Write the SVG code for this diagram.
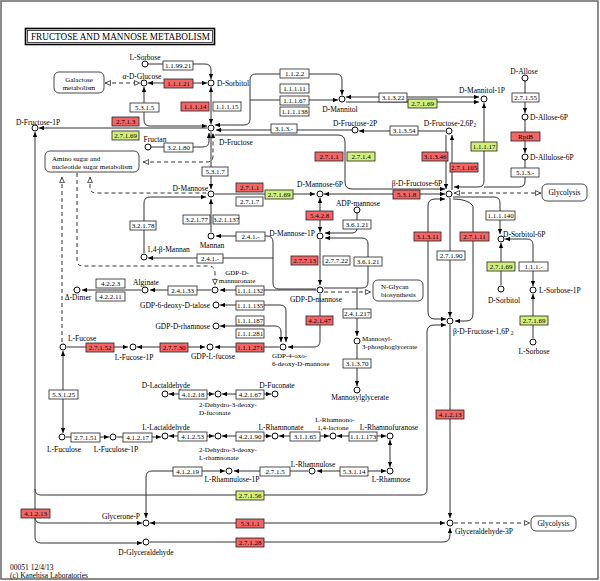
<svg xmlns="http://www.w3.org/2000/svg" width="600" height="581" viewBox="0 0 600 581">
<defs>
<style>
.bx{stroke:#222;stroke-width:0.8;fill:#fff}
.r{fill:#f46666}
.g{fill:#d2ee7c}
.et{font-family:"Liberation Serif",serif;font-size:7px;fill:#000;text-anchor:middle}
.t{font-family:"Liberation Serif",serif;font-size:7.5px;fill:#000}
.s{font-size:7px}
.m{text-anchor:middle}
.e{text-anchor:end}
.c{fill:#fff;stroke:#000;stroke-width:1}
.mp{fill:#fff;stroke:#333;stroke-width:0.9}
#connectors path{fill:none;stroke:#333;stroke-width:1}
#connectors path.d{stroke-dasharray:4,3}
</style>
<marker id="a" viewBox="0 0 8 8" refX="8" refY="4" markerWidth="5" markerHeight="5" markerUnits="userSpaceOnUse" orient="auto-start-reverse"><path d="M0,0.5 L8,4 L0,7.5z" fill="#000"/></marker>
<marker id="o" viewBox="0 0 8 8" refX="8" refY="4" markerWidth="6" markerHeight="6" markerUnits="userSpaceOnUse" orient="auto-start-reverse"><path d="M0.5,0.8 L7.5,4 L0.5,7.2z" fill="#fff" stroke="#000" stroke-width="0.9"/></marker>
</defs>
<rect x="0" y="0" width="600" height="581" fill="#fff"/>
<rect x="1" y="1" width="597" height="578" fill="none" stroke="#666" stroke-width="1.5"/>

<g id="title">
<rect x="25.5" y="28.5" width="189" height="16" fill="#fff" stroke="#000" stroke-width="1.6"/>
<rect x="27.5" y="30.5" width="185" height="12" fill="none" stroke="#000" stroke-width="0.7"/>
<text x="31" y="40" font-family="Liberation Serif,serif" font-size="9.5" textLength="179" lengthAdjust="spacingAndGlyphs">FRUCTOSE AND MANNOSE METABOLISM</text>
</g>

<g id="connectors">
<path d="M148 64 H205 Q211 64 211 70 V79" marker-end="url(#a)"/>
<path d="M148 83 H207" marker-start="url(#a)" marker-end="url(#a)"/>
<path class="d" d="M105 83 H140" marker-start="url(#o)" marker-end="url(#o)"/>
<path d="M144 87 V120 Q144 126 150 126 H207" marker-start="url(#a)" marker-end="url(#a)"/>
<path d="M211 87 V124" marker-start="url(#a)" marker-end="url(#a)"/>
<path d="M207 128 H39" marker-end="url(#a)"/>
<path d="M35 132 V537 Q35 543 41 543 H142" marker-start="url(#a)" marker-end="url(#a)"/>
<path d="M35 517 Q35 523 41 523 H142" marker-end="url(#a)"/>
<path d="M35 489 Q35 495 41 495 H421 Q427 495 427 489 V332 Q427 325 434 325 H446" marker-end="url(#a)"/>
<path d="M151 147 H203 Q209 147 209 141 V133" marker-end="url(#a)"/>
<path class="d" d="M143 162 H207 Q213 162 213 156 V133" marker-start="url(#o)" marker-end="url(#a)"/>
<path d="M215 125 H244 Q250 125 250 119 V80 Q250 74 256 74 H336 Q342 74 342 80 V95" marker-start="url(#a)" marker-end="url(#a)"/>
<path d="M250 100 H338" marker-end="url(#a)"/>
<path d="M352 130 H216" marker-end="url(#a)"/>
<path d="M215 135 H338 Q345 135 345 142 V182 Q345 189 352 189 H445" marker-end="url(#a)"/>
<path d="M445 131 H359" marker-end="url(#a)"/>
<path d="M446 135 V189" marker-end="url(#a)"/>
<path d="M452 190 V135" marker-end="url(#a)"/>
<path d="M346 97 H479" marker-start="url(#a)" marker-end="url(#a)"/>
<path d="M346 102 H479" marker-end="url(#a)"/>
<path d="M484 103 V181 Q484 187 478 187 H454" marker-start="url(#a)" marker-end="url(#a)"/>
<path d="M525 81 V113" marker-end="url(#a)"/>
<path d="M525 120 V153" marker-end="url(#a)"/>
<path d="M525 160 V181 Q525 187 519 187 H484"/>
<path class="d" d="M454 193 H541" marker-start="url(#o)" marker-end="url(#o)"/>
<path d="M453 197 H494 Q500 197 500 203 V234" marker-end="url(#a)"/>
<path d="M324 194 H445" marker-start="url(#a)" marker-end="url(#a)"/>
<path d="M215 194 H315" marker-end="url(#a)"/>
<path d="M211 132 V189" marker-end="url(#a)"/>
<path d="M211 232 V199" marker-end="url(#a)"/>
<path d="M144 253 V203 Q144 197 150 197 H206" marker-end="url(#a)"/>
<path d="M216 236 H267 Q273 236 273 242 V283 Q273 289 279 289 H316" marker-start="url(#a)"/>
<path d="M148 258 H273" marker-start="url(#a)"/>
<path d="M316 290 H220" marker-end="url(#a)"/>
<path d="M211 290 H150" marker-end="url(#a)"/>
<path d="M141 290 H82" marker-end="url(#a)"/>
<path d="M320 240 V285" marker-end="url(#a)"/>
<path d="M320 198 V232" marker-start="url(#a)" marker-end="url(#a)"/>
<path d="M357 213 V228 Q357 233 352 233 H325" marker-end="url(#a)"/>
<path d="M324 288 H362 Q368 288 368 282 V244 Q368 238 362 238 H325" marker-end="url(#a)"/>
<path class="d" d="M324 292 H371" marker-end="url(#o)"/>
<path d="M357 288 V336" marker-end="url(#a)"/>
<path d="M357 345 V386" marker-end="url(#a)"/>
<path d="M320 294 V341 Q320 347 314 347 H288" marker-end="url(#a)"/>
<path d="M279 347 H215" marker-end="url(#a)"/>
<path d="M137 347 H205" marker-start="url(#a)" marker-end="url(#a)"/>
<path d="M67 347 H128" marker-end="url(#a)"/>
<path d="M220 305 H280 Q286 305 286 311 V342" marker-start="url(#a)" marker-end="url(#a)"/>
<path d="M220 326 H275 Q281 326 281 332 V342" marker-start="url(#a)" marker-end="url(#a)"/>
<path d="M501 285 V243" marker-end="url(#a)"/>
<path d="M505 239 H527 Q533 239 533 245 V286" marker-start="url(#a)" marker-end="url(#a)"/>
<path d="M533 338 V294" marker-end="url(#a)"/>
<path d="M450 198 V317" marker-end="url(#a)"/>
<path d="M453 199 Q468 199 473 206 V314 Q473 321 466 321 H455" marker-end="url(#a)"/>
<path d="M446 319 H435 Q428 319 428 312 V206 Q428 199 435 199 H445" marker-start="url(#a)" marker-end="url(#a)"/>
<path d="M450 325 V518" marker-end="url(#a)"/>
<path d="M150 523 H445" marker-start="url(#a)" marker-end="url(#a)"/>
<path d="M150 542 H443 Q450 542 450 535 V528" marker-end="url(#a)"/>
<path class="d" d="M454 523 H530" marker-end="url(#o)"/>
<path d="M225 471 H152 Q146 471 146 477 V518" marker-start="url(#a)" marker-end="url(#a)"/>
<path d="M308 471 H234" marker-end="url(#a)"/>
<path d="M386 471 H317" marker-start="url(#a)" marker-end="url(#a)"/>
<path d="M390 440 V467" marker-start="url(#a)" marker-end="url(#a)"/>
<path d="M386 436 H337" marker-start="url(#a)" marker-end="url(#a)"/>
<path d="M279 436 H329" marker-start="url(#a)" marker-end="url(#a)"/>
<path d="M271 436 H222" marker-start="url(#a)" marker-end="url(#a)"/>
<path d="M214 436 H169" marker-start="url(#a)" marker-end="url(#a)"/>
<path d="M117 437 H161" marker-end="url(#a)"/>
<path d="M66 437 H109" marker-end="url(#a)"/>
<path d="M63 351 V433" marker-start="url(#a)" marker-end="url(#a)"/>
<path d="M169 394 H214" marker-start="url(#a)" marker-end="url(#a)"/>
<path d="M222 394 H271" marker-start="url(#a)" marker-end="url(#a)"/>
<path class="d" d="M62 177 V343" marker-start="url(#o)"/>
<path class="d" d="M77 173 V260 Q77 266 83 266 H208 Q215 266 215 273 V285" marker-end="url(#o)"/>
<path class="d" d="M90 177 V187 Q90 193 96 193 H206" marker-start="url(#o)"/>
</g>

<g id="maps">
<g id="map-galactose"><rect class="mp" x="54" y="72" width="50" height="21" rx="5"/><text class="t m s" x="79" y="82">Galactose</text><text class="t m s" x="79" y="90">metabolism</text></g>
<g id="map-aminosugar"><rect class="mp" x="45" y="151" width="94" height="21" rx="5"/><text class="t s" x="52" y="160.5">Amino sugar and</text><text class="t s" x="52" y="168.5">nucleotide sugar metabolism</text></g>
<g id="map-nglycan"><rect class="mp" x="373" y="280" width="50" height="21" rx="5"/><text class="t s" x="381" y="289">N-Glycan</text><text class="t s" x="381" y="297">biosynthesis</text></g>
<g id="map-glycolysis1"><rect class="mp" x="542" y="184" width="45" height="17" rx="5"/><text class="t m" x="564.5" y="195">Glycolysis</text></g>
<g id="map-glycolysis2"><rect class="mp" x="531" y="516" width="45" height="15" rx="5"/><text class="t m" x="553.5" y="526">Glycolysis</text></g>
</g>

<g id="enzymes">
<g id="e-1.1.99.21"><rect class="bx" x="163" y="61" width="30" height="9"/><text class="et" x="178" y="68">1.1.99.21</text></g>
<g id="e-1.1.1.21"><rect class="bx r" x="164" y="79" width="29" height="9"/><text class="et" x="178.5" y="86">1.1.1.21</text></g>
<g id="e-5.3.1.5"><rect class="bx" x="130" y="103" width="29" height="9"/><text class="et" x="144.5" y="110">5.3.1.5</text></g>
<g id="e-1.1.1.14"><rect class="bx r" x="181" y="102" width="28" height="9"/><text class="et" x="195" y="109">1.1.1.14</text></g>
<g id="e-1.1.1.15"><rect class="bx" x="213" y="102" width="28" height="9"/><text class="et" x="227" y="109">1.1.1.15</text></g>
<g id="e-1.1.2.2"><rect class="bx" x="280" y="69" width="29" height="9"/><text class="et" x="294.5" y="76">1.1.2.2</text></g>
<g id="e-1.1.1.11"><rect class="bx" x="280" y="84" width="29" height="9"/><text class="et" x="294.5" y="91">1.1.1.11</text></g>
<g id="e-1.1.1.67"><rect class="bx" x="280" y="96" width="29" height="9"/><text class="et" x="294.5" y="103">1.1.1.67</text></g>
<g id="e-1.1.1.138"><rect class="bx" x="280" y="107" width="29" height="9"/><text class="et" x="294.5" y="114">1.1.1.138</text></g>
<g id="e-2.7.1.3"><rect class="bx r" x="112" y="117" width="27" height="9"/><text class="et" x="125.5" y="124">2.7.1.3</text></g>
<g id="e-2.7.1.69a"><rect class="bx g" x="112" y="131" width="27" height="9"/><text class="et" x="125.5" y="138">2.7.1.69</text></g>
<g id="e-3.2.1.80"><rect class="bx" x="164" y="143" width="29" height="9"/><text class="et" x="178.5" y="150">3.2.1.80</text></g>
<g id="e-3.1.3.-"><rect class="bx" x="271" y="124" width="26" height="9"/><text class="et" x="284" y="131">3.1.3.-</text></g>
<g id="e-3.1.3.22"><rect class="bx" x="379" y="93" width="28" height="9"/><text class="et" x="393" y="100">3.1.3.22</text></g>
<g id="e-2.7.1.69b"><rect class="bx g" x="408" y="99" width="29" height="9"/><text class="et" x="422.5" y="106">2.7.1.69</text></g>
<g id="e-3.1.3.54"><rect class="bx" x="390" y="126" width="28" height="9"/><text class="et" x="404" y="133">3.1.3.54</text></g>
<g id="e-2.7.1.1a"><rect class="bx r" x="315" y="152" width="28" height="9"/><text class="et" x="329" y="159">2.7.1.1</text></g>
<g id="e-2.7.1.4"><rect class="bx g" x="347" y="152" width="28" height="9"/><text class="et" x="361" y="159">2.7.1.4</text></g>
<g id="e-3.1.3.46"><rect class="bx r" x="422" y="152" width="26" height="9"/><text class="et" x="435" y="159">3.1.3.46</text></g>
<g id="e-2.7.1.105"><rect class="bx r" x="450" y="163" width="28" height="9"/><text class="et" x="464" y="170">2.7.1.105</text></g>
<g id="e-1.1.1.17"><rect class="bx g" x="471" y="142" width="26" height="9"/><text class="et" x="484" y="149">1.1.1.17</text></g>
<g id="e-2.7.1.55"><rect class="bx" x="512" y="93" width="27" height="9"/><text class="et" x="525.5" y="100">2.7.1.55</text></g>
<g id="e-RpiB"><rect class="bx r" x="511" y="132" width="29" height="9"/><text class="et" x="525.5" y="139">RpiB</text></g>
<g id="e-5.1.3.-"><rect class="bx" x="511" y="168" width="28" height="9"/><text class="et" x="525" y="175">5.1.3.-</text></g>
<g id="e-5.3.1.7"><rect class="bx" x="202" y="167" width="26" height="9"/><text class="et" x="215" y="174">5.3.1.7</text></g>
<g id="e-2.7.1.1b"><rect class="bx r" x="236" y="183" width="27" height="9"/><text class="et" x="249.5" y="190">2.7.1.1</text></g>
<g id="e-2.7.1.7"><rect class="bx" x="236" y="197" width="27" height="9"/><text class="et" x="249.5" y="204">2.7.1.7</text></g>
<g id="e-2.7.1.69c"><rect class="bx g" x="265" y="190" width="28" height="9"/><text class="et" x="279" y="197">2.7.1.69</text></g>
<g id="e-5.3.1.8"><rect class="bx r" x="393" y="190" width="27" height="9"/><text class="et" x="406.5" y="197">5.3.1.8</text></g>
<g id="e-3.2.1.77"><rect class="bx" x="183" y="215" width="27" height="9"/><text class="et" x="196.5" y="222">3.2.1.77</text></g>
<g id="e-3.2.1.137"><rect class="bx" x="213" y="215" width="26" height="9"/><text class="et" x="226" y="222">3.2.1.137</text></g>
<g id="e-3.2.1.78"><rect class="bx" x="130" y="221" width="26" height="9"/><text class="et" x="143" y="228">3.2.1.78</text></g>
<g id="e-2.4.1.-a"><rect class="bx" x="236" y="232" width="29" height="9"/><text class="et" x="250.5" y="239">2.4.1.-</text></g>
<g id="e-2.4.1.-b"><rect class="bx" x="197" y="254" width="26" height="9"/><text class="et" x="210" y="261">2.4.1.-</text></g>
<g id="e-5.4.2.8"><rect class="bx r" x="306" y="211" width="27" height="9"/><text class="et" x="319.5" y="218">5.4.2.8</text></g>
<g id="e-3.6.1.21a"><rect class="bx" x="343" y="220" width="28" height="9"/><text class="et" x="357" y="227">3.6.1.21</text></g>
<g id="e-2.7.7.13"><rect class="bx r" x="291" y="256" width="27" height="9"/><text class="et" x="304.5" y="263">2.7.7.13</text></g>
<g id="e-2.7.7.22"><rect class="bx" x="323" y="256" width="27" height="9"/><text class="et" x="336.5" y="263">2.7.7.22</text></g>
<g id="e-3.6.1.21b"><rect class="bx" x="354" y="257" width="28" height="9"/><text class="et" x="368" y="264">3.6.1.21</text></g>
<g id="e-3.1.3.11"><rect class="bx r" x="414" y="232" width="27" height="9"/><text class="et" x="427.5" y="239">3.1.3.11</text></g>
<g id="e-2.7.1.11"><rect class="bx r" x="460" y="232" width="29" height="9"/><text class="et" x="474.5" y="239">2.7.1.11</text></g>
<g id="e-1.1.1.140"><rect class="bx" x="486" y="211" width="29" height="9"/><text class="et" x="500.5" y="218">1.1.1.140</text></g>
<g id="e-2.7.1.90"><rect class="bx" x="437" y="251" width="28" height="9"/><text class="et" x="451" y="258">2.7.1.90</text></g>
<g id="e-2.7.1.69d"><rect class="bx g" x="487" y="262" width="28" height="9"/><text class="et" x="501" y="269">2.7.1.69</text></g>
<g id="e-1.1.1.-"><rect class="bx" x="519" y="262" width="29" height="9"/><text class="et" x="533.5" y="269">1.1.1.-</text></g>
<g id="e-2.7.1.69e"><rect class="bx g" x="520" y="316" width="28" height="9"/><text class="et" x="534" y="323">2.7.1.69</text></g>
<g id="e-4.2.2.3"><rect class="bx" x="96" y="279" width="29" height="9"/><text class="et" x="110.5" y="286">4.2.2.3</text></g>
<g id="e-4.2.2.11"><rect class="bx" x="96" y="292" width="29" height="9"/><text class="et" x="110.5" y="299">4.2.2.11</text></g>
<g id="e-2.4.1.33"><rect class="bx" x="168" y="286" width="29" height="9"/><text class="et" x="182.5" y="293">2.4.1.33</text></g>
<g id="e-1.1.1.132"><rect class="bx" x="236" y="286" width="28" height="9"/><text class="et" x="250" y="293">1.1.1.132</text></g>
<g id="e-1.1.1.135"><rect class="bx" x="236" y="301" width="28" height="9"/><text class="et" x="250" y="308">1.1.1.135</text></g>
<g id="e-1.1.1.187"><rect class="bx" x="236" y="316" width="28" height="9"/><text class="et" x="250" y="323">1.1.1.187</text></g>
<g id="e-1.1.1.281"><rect class="bx" x="236" y="329" width="28" height="9"/><text class="et" x="250" y="336">1.1.1.281</text></g>
<g id="e-2.7.7.30"><rect class="bx r" x="160" y="343" width="28" height="9"/><text class="et" x="174" y="350">2.7.7.30</text></g>
<g id="e-1.1.1.271"><rect class="bx r" x="236" y="343" width="28" height="9"/><text class="et" x="250" y="350">1.1.1.271</text></g>
<g id="e-4.2.1.47"><rect class="bx r" x="306" y="316" width="27" height="9"/><text class="et" x="319.5" y="323">4.2.1.47</text></g>
<g id="e-2.4.1.217"><rect class="bx" x="343" y="309" width="28" height="9"/><text class="et" x="357" y="316">2.4.1.217</text></g>
<g id="e-3.1.3.70"><rect class="bx" x="343" y="359" width="28" height="9"/><text class="et" x="357" y="366">3.1.3.70</text></g>
<g id="e-2.7.1.52"><rect class="bx r" x="86" y="343" width="28" height="9"/><text class="et" x="100" y="350">2.7.1.52</text></g>
<g id="e-5.3.1.25"><rect class="bx" x="49" y="390" width="29" height="9"/><text class="et" x="63.5" y="397">5.3.1.25</text></g>
<g id="e-2.7.1.51"><rect class="bx" x="71" y="433" width="29" height="9"/><text class="et" x="85.5" y="440">2.7.1.51</text></g>
<g id="e-4.1.2.17"><rect class="bx" x="123" y="433" width="29" height="9"/><text class="et" x="137.5" y="440">4.1.2.17</text></g>
<g id="e-4.1.2.18"><rect class="bx" x="179" y="390" width="28" height="9"/><text class="et" x="193" y="397">4.1.2.18</text></g>
<g id="e-4.2.1.67"><rect class="bx" x="236" y="390" width="28" height="9"/><text class="et" x="250" y="397">4.2.1.67</text></g>
<g id="e-4.1.2.53"><rect class="bx" x="178" y="432" width="29" height="9"/><text class="et" x="192.5" y="439">4.1.2.53</text></g>
<g id="e-4.2.1.90"><rect class="bx" x="236" y="432" width="28" height="9"/><text class="et" x="250" y="439">4.2.1.90</text></g>
<g id="e-3.1.1.65"><rect class="bx" x="290" y="432" width="30" height="9"/><text class="et" x="305" y="439">3.1.1.65</text></g>
<g id="e-1.1.1.173"><rect class="bx" x="349" y="432" width="28" height="9"/><text class="et" x="363" y="439">1.1.1.173</text></g>
<g id="e-4.1.2.19"><rect class="bx" x="173" y="467" width="29" height="9"/><text class="et" x="187.5" y="474">4.1.2.19</text></g>
<g id="e-2.7.1.5"><rect class="bx" x="260" y="467" width="30" height="9"/><text class="et" x="275" y="474">2.7.1.5</text></g>
<g id="e-5.3.1.14"><rect class="bx" x="340" y="467" width="28" height="9"/><text class="et" x="354" y="474">5.3.1.14</text></g>
<g id="e-2.7.1.56"><rect class="bx g" x="236" y="491" width="28" height="9"/><text class="et" x="250" y="498">2.7.1.56</text></g>
<g id="e-5.3.1.1"><rect class="bx r" x="236" y="519" width="28" height="9"/><text class="et" x="250" y="526">5.3.1.1</text></g>
<g id="e-2.7.1.28"><rect class="bx r" x="236" y="538" width="28" height="9"/><text class="et" x="250" y="545">2.7.1.28</text></g>
<g id="e-4.1.2.13a"><rect class="bx r" x="21" y="509" width="29" height="9"/><text class="et" x="35.5" y="516">4.1.2.13</text></g>
<g id="e-4.1.2.13b"><rect class="bx r" x="436" y="410" width="28" height="9"/><text class="et" x="450" y="417">4.1.2.13</text></g>
</g>

<g id="compounds">
<g id="c-L-Sorbose-a"><circle class="c" cx="145" cy="64" r="3"/><text class="t m" x="145" y="59.5">L-Sorbose</text></g>
<g id="c-a-D-Glucose"><circle class="c" cx="144" cy="83" r="3"/><text class="t m" x="142" y="78.5">α-D-Glucose</text></g>
<g id="c-D-Sorbitol-a"><circle class="c" cx="211" cy="83" r="3"/><text class="t" x="217" y="86">D-Sorbitol</text></g>
<g id="c-D-Fructose"><circle class="c" cx="211" cy="128" r="3"/><text class="t" x="219" y="145">D-Fructose</text></g>
<g id="c-D-Fructose-1P"><circle class="c" cx="35" cy="128" r="3"/><text class="t m" x="38" y="124.5">D-Fructose-1P</text></g>
<g id="c-Fructan"><circle class="c" cx="148" cy="147" r="3"/><text class="t m" x="155" y="142">Fructan</text></g>
<g id="c-D-Mannitol"><circle class="c" cx="342" cy="99" r="3"/><text class="t m" x="340" y="111.5">D-Mannitol</text></g>
<g id="c-D-Mannitol-1P"><circle class="c" cx="484" cy="99" r="3"/><text class="t m" x="482" y="92.5">D-Mannitol-1P</text></g>
<g id="c-D-Fructose-2P"><circle class="c" cx="355" cy="130" r="3"/><text class="t m" x="355" y="125.5">D-Fructose-2P</text></g>
<g id="c-D-Fructose-26P2"><circle class="c" cx="449" cy="131" r="3"/><text class="t m" x="450" y="125.5">D-Fructose-2,6P<tspan font-size="5.5" dy="1.5">2</tspan></text></g>
<g id="c-D-Allose"><circle class="c" cx="525" cy="78" r="3"/><text class="t m" x="524" y="73.5">D-Allose</text></g>
<g id="c-D-Allose-6P"><circle class="c" cx="525" cy="117" r="3"/><text class="t" x="530" y="120">D-Allose-6P</text></g>
<g id="c-D-Allulose-6P"><circle class="c" cx="525" cy="157" r="3"/><text class="t" x="530" y="160">D-Allulose-6P</text></g>
<g id="c-b-D-Fructose-6P"><circle class="c" cx="449" cy="194" r="3"/><text class="t m" x="417" y="186">β-D-Fructose-6P</text></g>
<g id="c-D-Mannose"><circle class="c" cx="211" cy="194" r="3"/><text class="t e" x="208" y="190.5">D-Mannose</text></g>
<g id="c-D-Mannose-6P"><circle class="c" cx="320" cy="194" r="3"/><text class="t m" x="320" y="186.5">D-Mannose-6P</text></g>
<g id="c-ADP-mannose"><circle class="c" cx="357" cy="210" r="3"/><text class="t m" x="358" y="206">ADP-mannose</text></g>
<g id="c-D-Mannose-1P"><circle class="c" cx="320" cy="236" r="3"/><text class="t e" x="315" y="235.5">D-Mannose-1P</text></g>
<g id="c-Mannan"><circle class="c" cx="211" cy="236" r="3"/><text class="t m" x="212" y="247.5">Mannan</text></g>
<g id="c-14-b-Mannan"><circle class="c" cx="144" cy="257" r="3"/><text class="t" x="147" y="251.5">1,4-β-Mannan</text></g>
<g id="c-GDP-D-mannuronate"><circle class="c" cx="215" cy="290" r="3"/><text class="t m s" x="237" y="274.5">GDP-D-</text><text class="t m s" x="237" y="282.5">mannuronate</text></g>
<g id="c-Alginate"><circle class="c" cx="145" cy="290" r="3"/><text class="t m" x="146" y="284.5">Alginate</text></g>
<g id="c-D-Dimer"><circle class="c" cx="77" cy="290" r="3"/><text class="t m" x="78" y="299.5">Δ-Dimer</text></g>
<g id="c-GDP-D-mannose"><circle class="c" cx="320" cy="290" r="3"/><text class="t m" x="316" y="301.5">GDP-D-mannose</text></g>
<g id="c-GDP-6-deoxy-D-talose"><circle class="c" cx="216" cy="305" r="3"/><text class="t e" x="210" y="308">GDP-6-deoxy-D-talose</text></g>
<g id="c-GDP-D-rhamnose"><circle class="c" cx="216" cy="326" r="3"/><text class="t e" x="210" y="328.5">GDP-D-rhamnose</text></g>
<g id="c-GDP-L-fucose"><circle class="c" cx="210" cy="347" r="3"/><text class="t m" x="213" y="358.5">GDP-L-fucose</text></g>
<g id="c-GDP-4-oxo"><circle class="c" cx="283" cy="347" r="3"/><text class="t s" x="272" y="358">GDP-4-oxo-</text><text class="t s" x="272" y="366">6-deoxy-D-mannose</text></g>
<g id="c-L-Fucose-1P"><circle class="c" cx="133" cy="347" r="3"/><text class="t m" x="134" y="359.5">L-Fucose-1P</text></g>
<g id="c-L-Fucose"><circle class="c" cx="63" cy="347" r="3"/><text class="t" x="68" y="340.5">L-Fucose</text></g>
<g id="c-Mannosyl-3PG"><circle class="c" cx="357" cy="341" r="3"/><text class="t s" x="362" y="340.5">Mannosyl-</text><text class="t s" x="362" y="348.5">3-phosphoglycerate</text></g>
<g id="c-Mannosylglycerate"><circle class="c" cx="357" cy="390" r="3"/><text class="t m" x="360" y="400">Mannosylglycerate</text></g>
<g id="c-D-Sorbitol-6P"><circle class="c" cx="501" cy="239" r="3"/><text class="t" x="503" y="236.5">D-Sorbitol-6P</text></g>
<g id="c-D-Sorbitol-b"><circle class="c" cx="501" cy="289" r="3"/><text class="t m" x="504" y="302.5">D-Sorbitol</text></g>
<g id="c-L-Sorbose-1P"><circle class="c" cx="533" cy="290" r="3"/><text class="t" x="539" y="292.5">L-Sorbose-1P</text></g>
<g id="c-L-Sorbose-b"><circle class="c" cx="533" cy="342" r="3"/><text class="t m" x="534" y="353.5">L-Sorbose</text></g>
<g id="c-b-D-Fructose-16P2"><circle class="c" cx="450" cy="321" r="3"/><text class="t" x="453" y="333.5">β-D-Fructose-1,6P <tspan font-size="5.5" dy="1.5">2</tspan></text></g>
<g id="c-L-Fuculose"><circle class="c" cx="62" cy="437" r="3"/><text class="t m" x="64" y="451.5">L-Fuculose</text></g>
<g id="c-L-Fuculose-1P"><circle class="c" cx="113" cy="437" r="3"/><text class="t m" x="116" y="451.5">L-Fuculose-1P</text></g>
<g id="c-D-Lactaldehyde"><circle class="c" cx="165" cy="394" r="3"/><text class="t m" x="166" y="387.5">D-Lactaldehyde</text></g>
<g id="c-2D3D-D-fuconate"><circle class="c" cx="218" cy="394" r="3"/><text class="t s" x="199" y="406.5">2-Dehydro-3-deoxy-</text><text class="t s" x="199" y="414.5">D-fuconate</text></g>
<g id="c-D-Fuconate"><circle class="c" cx="275" cy="394" r="3"/><text class="t m" x="277" y="387.5">D-Fuconate</text></g>
<g id="c-L-Lactaldehyde"><circle class="c" cx="165" cy="436" r="3"/><text class="t m" x="166" y="429.5">L-Lactaldehyde</text></g>
<g id="c-2D3D-L-rhamnonate"><circle class="c" cx="218" cy="436" r="3"/><text class="t s" x="199" y="451.5">2-Dehydro-3-deoxy-</text><text class="t s" x="199" y="459.5">L-rhamnonate</text></g>
<g id="c-L-Rhamnonate"><circle class="c" cx="275" cy="436" r="3"/><text class="t m" x="281" y="429.5">L-Rhamnonate</text></g>
<g id="c-L-Rhamnono-lactone"><circle class="c" cx="333" cy="436" r="3"/><text class="t m s" x="335" y="422">L-Rhamnono-</text><text class="t m s" x="333" y="430">1,4-lactone</text></g>
<g id="c-L-Rhamnofuranose"><circle class="c" cx="390" cy="436" r="3"/><text class="t m" x="389" y="429.5">L-Rhamnofuranose</text></g>
<g id="c-L-Rhamnose"><circle class="c" cx="390" cy="471" r="3"/><text class="t m" x="391" y="481.5">L-Rhamnose</text></g>
<g id="c-L-Rhamnulose"><circle class="c" cx="312" cy="471" r="3"/><text class="t m" x="313" y="466.5">L-Rhamnulose</text></g>
<g id="c-L-Rhamnulose-1P"><circle class="c" cx="229" cy="471" r="3"/><text class="t m" x="232" y="481.5">L-Rhamnulose-1P</text></g>
<g id="c-Glycerone-P"><circle class="c" cx="146" cy="523" r="3"/><text class="t e" x="140" y="518.5">Glycerone-P</text></g>
<g id="c-D-Glyceraldehyde"><circle class="c" cx="146" cy="542" r="3"/><text class="t m" x="146" y="554.5">D-Glyceraldehyde</text></g>
<g id="c-Glyceraldehyde-3P"><circle class="c" cx="450" cy="523" r="3"/><text class="t" x="455" y="533.5">Glyceraldehyde-3P</text></g>
</g>

<g id="footer">
<text class="t" x="10" y="570">00051 12/4/13</text>
<text class="t" x="10" y="577.5">(c) Kanehisa Laboratories</text>
</g>
</svg>
